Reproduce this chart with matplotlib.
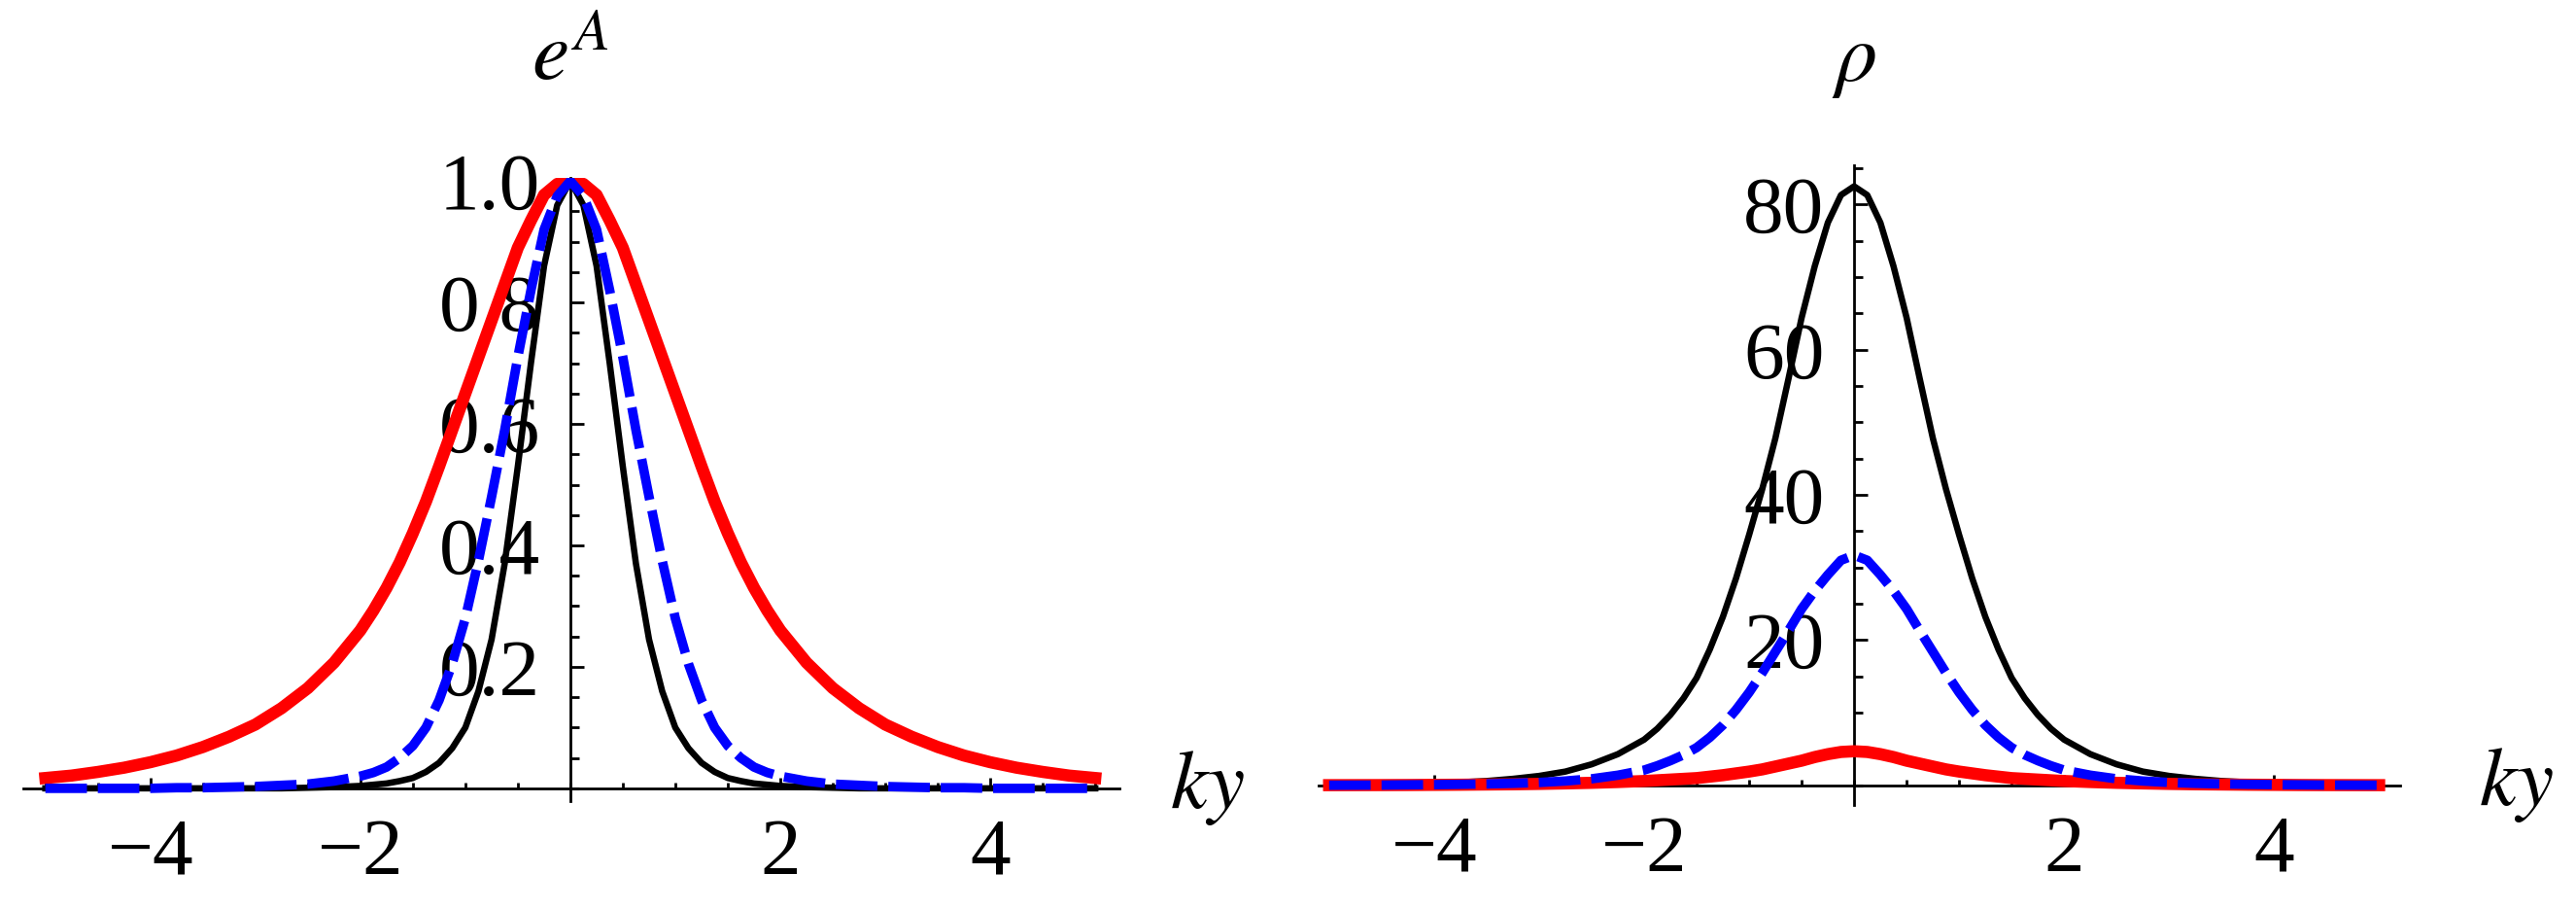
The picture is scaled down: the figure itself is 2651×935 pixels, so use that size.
import matplotlib
matplotlib.use('Agg')
import matplotlib.pyplot as plt
from matplotlib.ticker import FixedLocator, MultipleLocator

plt.rcParams['font.family'] = 'serif'
plt.rcParams['font.serif'] = ['Liberation Serif', 'DejaVu Serif']
plt.rcParams['mathtext.fontset'] = 'stix'

# ky grid
ky = [-5, -4.75, -4.5, -4.25, -4, -3.75, -3.5, -3.25, -3, -2.75, -2.5, -2.25, -2,
      -1.875, -1.75, -1.625, -1.5, -1.375, -1.25, -1.125, -1, -0.875, -0.75, -0.625,
      -0.5, -0.375, -0.25, -0.125, 0, 0.125, 0.25, 0.375, 0.5, 0.625, 0.75, 0.875,
      1, 1.125, 1.25, 1.375, 1.5, 1.625, 1.75, 1.875, 2, 2.25, 2.5, 2.75, 3, 3.25,
      3.5, 3.75, 4, 4.25, 4.5, 4.75, 5]

# e^A
eA_red = [0.017, 0.021, 0.027, 0.034, 0.043, 0.054, 0.068, 0.085, 0.105, 0.132, 0.165, 0.207, 0.26,
          0.293, 0.33, 0.372, 0.42, 0.472, 0.53, 0.59, 0.65, 0.71, 0.77, 0.83,
          0.89, 0.935, 0.977, 0.995, 1.0, 0.995, 0.977, 0.935, 0.89, 0.83, 0.77, 0.71,
          0.65, 0.59, 0.53, 0.472, 0.42, 0.372, 0.33, 0.293, 0.26, 0.207, 0.165, 0.132, 0.105, 0.085,
          0.068, 0.054, 0.043, 0.034, 0.027, 0.021, 0.017]
eA_blue = [0, 0, 0, 0, 0, 0.001, 0.001, 0.002, 0.003, 0.005, 0.007, 0.012, 0.02,
           0.026, 0.035, 0.05, 0.07, 0.10, 0.145, 0.205, 0.28, 0.375, 0.48, 0.59,
           0.71, 0.82, 0.92, 0.975, 1.0, 0.975, 0.92, 0.82, 0.71, 0.59, 0.48, 0.375,
           0.28, 0.205, 0.145, 0.10, 0.07, 0.05, 0.035, 0.026, 0.02, 0.012, 0.007, 0.005, 0.003, 0.002,
           0.001, 0.001, 0, 0, 0, 0, 0]
eA_black = [0, 0, 0, 0, 0, 0, 0, 0, 0, 0, 0.001, 0.002, 0.004,
            0.006, 0.008, 0.012, 0.017, 0.027, 0.042, 0.066, 0.10, 0.16, 0.245, 0.37,
            0.53, 0.70, 0.86, 0.96, 1.0, 0.96, 0.86, 0.70, 0.53, 0.37, 0.245, 0.16,
            0.10, 0.066, 0.042, 0.027, 0.017, 0.012, 0.008, 0.006, 0.004, 0.002, 0.001, 0, 0, 0,
            0, 0, 0, 0, 0, 0, 0]

# rho
rho_red = [0.03, 0.035, 0.04, 0.05, 0.07, 0.09, 0.12, 0.15, 0.2, 0.27, 0.35, 0.46, 0.6,
           0.7, 0.8, 0.9, 1.0, 1.2, 1.4, 1.65, 1.9, 2.2, 2.6, 3.0,
           3.4, 3.9, 4.3, 4.6, 4.7, 4.6, 4.3, 3.9, 3.4, 3.0, 2.6, 2.2,
           1.9, 1.65, 1.4, 1.2, 1.0, 0.9, 0.8, 0.7, 0.6, 0.46, 0.35, 0.27, 0.2, 0.15,
           0.12, 0.09, 0.07, 0.05, 0.04, 0.035, 0.03]
rho_blue = [0.02, 0.03, 0.04, 0.07, 0.1, 0.14, 0.2, 0.28, 0.4, 0.6, 0.9, 1.4, 2.1,
            2.7, 3.4, 4.2, 5.2, 6.6, 8.3, 10.4, 12.8, 15.5, 18.4, 21.3,
            24.3, 26.8, 29.0, 31.0, 31.7, 31.0, 29.0, 26.8, 24.3, 21.3, 18.4, 15.5,
            12.8, 10.4, 8.3, 6.6, 5.2, 4.2, 3.4, 2.7, 2.1, 1.4, 0.9, 0.6, 0.4, 0.28,
            0.2, 0.14, 0.1, 0.07, 0.04, 0.03, 0.02]
rho_black = [0.05, 0.08, 0.12, 0.2, 0.3, 0.42, 0.6, 0.9, 1.3, 1.9, 2.9, 4.3, 6.3,
             7.8, 9.7, 12.0, 14.8, 18.7, 23.2, 28.5, 34.5, 40.8, 47.8, 56.0,
             64.4, 71.5, 77.5, 81.3, 82.5, 81.3, 77.5, 71.5, 64.4, 56.0, 47.8, 40.8,
             34.5, 28.5, 23.2, 18.7, 14.8, 12.0, 9.7, 7.8, 6.3, 4.3, 2.9, 1.9, 1.3, 0.9,
             0.6, 0.42, 0.3, 0.2, 0.12, 0.08, 0.05]

xticks = [-4, -2, 2, 4]
xticklabels = ['\u22124', '\u22122', '2', '4']
eA_ticks = [0.2, 0.4, 0.6, 0.8, 1.0]
eA_ticklabels = ['0.2', '0.4', '0.6', '0.8', '1.0']
rho_ticks = [20, 40, 60, 80]
rho_ticklabels = ['20', '40', '60', '80']

W, H = 2651, 935
fig = plt.figure(figsize=(W / 100, H / 100), dpi=100)
ax1 = fig.add_axes([24 / W, 1 - 824 / H, 1128 / W, 641 / H])
ax2 = fig.add_axes([1357 / W, 1 - 828 / H, 1113 / W, 658 / H])

FS = 60


def style(ax, yticks, yticklabels, yminor):
    for s in ['top', 'right']:
        ax.spines[s].set_visible(False)
    for s in ['left', 'bottom']:
        ax.spines[s].set_position(('data', 0))
        ax.spines[s].set_linewidth(2.0)
    ax.patch.set_visible(False)
    ax.xaxis.set_major_locator(FixedLocator(xticks))
    ax.set_xticklabels(xticklabels)
    ax.xaxis.set_minor_locator(MultipleLocator(0.5))
    ax.yaxis.set_major_locator(FixedLocator(yticks))
    ax.set_yticklabels(yticklabels)
    ax.yaxis.set_minor_locator(MultipleLocator(yminor))
    ax.tick_params(axis='x', which='major', direction='in', length=8, width=2, pad=22, labelsize=FS)
    ax.tick_params(axis='x', which='minor', direction='in', length=4.5, width=2)
    ax.tick_params(axis='y', which='major', direction='in', length=10, width=2, pad=22, labelsize=FS)
    ax.tick_params(axis='y', which='minor', direction='in', length=6.5, width=2)


dash = (4.4, 1.15)
red_kw = dict(color='red', lw=9, solid_joinstyle='round')
black_kw = dict(color='black', lw=4.7, solid_joinstyle='round')
blue_kw = dict(color='blue', lw=7, dashes=dash)

ax1.plot(ky, eA_red, zorder=3, **red_kw)
ax1.plot(ky, eA_black, zorder=4, **black_kw)
ax1.plot(ky, eA_blue, zorder=5, **blue_kw)
ax1.set_xlim(-5.21, 5.23)
ax1.set_ylim(-0.021, 1.005)
style(ax1, eA_ticks, eA_ticklabels, 0.05)
ax1.text(0, 1.2, r'$e^{A}$', fontsize=62, ha='center', va='center', clip_on=False)
ax1.text(6.07, 0, r'$ky$', fontsize=62, ha='center', va='center', clip_on=False)

ax2.plot(ky, rho_black, zorder=3, **black_kw)
ax2.plot(ky, rho_red, zorder=4, **red_kw)
ax2.plot(ky, rho_blue, zorder=5, **blue_kw)
ax2.set_xlim(-5.10, 5.20)
ax2.set_ylim(-2.7, 85.4)
style(ax2, rho_ticks, rho_ticklabels, 5)
ax2.text(0, 99.7, r'$\rho$', fontsize=62, ha='center', va='center', clip_on=False)
ax2.text(6.31, 0, r'$ky$', fontsize=62, ha='center', va='center', clip_on=False)

fig.savefig('out.png', dpi=100)
